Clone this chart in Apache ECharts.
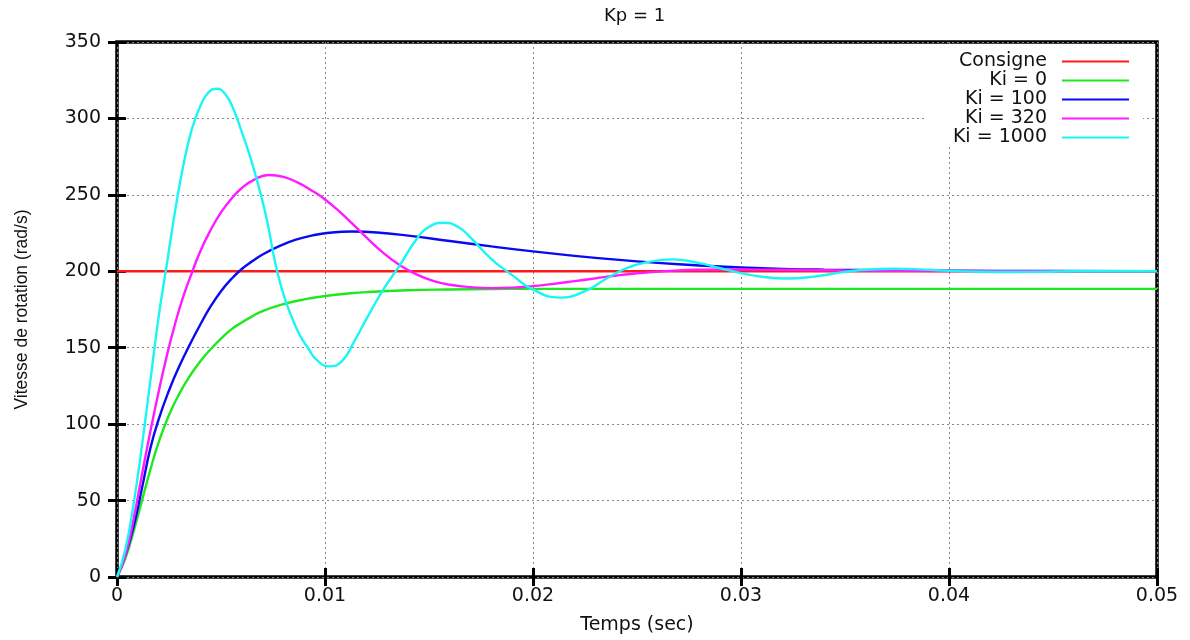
<!DOCTYPE html>
<html>
<head>
<meta charset="utf-8">
<title>Kp = 1</title>
<script src="https://cdn.jsdelivr.net/npm/echarts@6/dist/echarts.min.js"></script>
<style>
  html, body { margin: 0; padding: 0; background: #fff; }
  #chart { width: 1190px; height: 640px; }
</style>
</head>
<body>
<div id="chart"></div>
<script>
// Consigne : échelon à 200 rad/s
var consigneTimes = [0, 0.05];
var consigne = [200, 200];

// Ki = 0
var ki0Times = [
  0, 0.0004, 0.0008, 0.0012, 0.0016, 0.002, 0.0025, 0.003, 0.0035, 0.004,
  0.0045, 0.005, 0.0055, 0.006, 0.0065, 0.007, 0.008, 0.009, 0.01, 0.011,
  0.012, 0.014, 0.016, 0.018, 0.02, 0.05
];
var ki0 = [
  0, 12, 30, 50, 70, 88, 106, 120, 131.5, 141,
  149, 156, 162, 166.5, 170.5, 174, 178.5, 181.6, 183.8, 185.3,
  186.4, 187.6, 188.1, 188.4, 188.5, 188.5
];

// Ki = 100
var ki100Times = [
  0, 0.0004, 0.0008, 0.0012, 0.0016, 0.002, 0.0025, 0.003, 0.0035, 0.004,
  0.0045, 0.005, 0.0055, 0.006, 0.0065, 0.007, 0.0078, 0.0086, 0.0094, 0.0102,
  0.0113, 0.0125, 0.014, 0.016, 0.018, 0.02, 0.022, 0.024, 0.026, 0.028,
  0.03, 0.032, 0.034, 0.037, 0.04, 0.045, 0.05
];
var ki100 = [
  0, 14, 33, 58, 84, 103, 122, 138, 152, 165,
  177, 187, 195, 201.5, 206.5, 211, 216.5, 220.7, 223.5, 225.2,
  226, 225.4, 223.3, 219.8, 216.3, 213, 210.1, 207.6, 205.5, 203.8,
  202.5, 201.6, 201.1, 200.7, 200.4, 200.2, 200.1
];

// Ki = 320
var ki320Times = [
  0, 0.0004, 0.0008, 0.0012, 0.0016, 0.002, 0.0024, 0.0028, 0.0032, 0.0036,
  0.004, 0.0045, 0.005, 0.0055, 0.006, 0.0066, 0.0073, 0.008, 0.0087, 0.0094,
  0.01, 0.0107, 0.0114, 0.012, 0.0128, 0.0136, 0.0144, 0.0152, 0.016, 0.017,
  0.018, 0.019, 0.02, 0.021, 0.022, 0.023, 0.024, 0.025, 0.026, 0.027,
  0.028, 0.0295, 0.031, 0.033, 0.035, 0.038, 0.042, 0.05
];
var ki320 = [
  0, 14, 38, 67, 95, 121, 145, 166, 184, 199,
  213, 227, 238.5, 247.5, 254.5, 260, 263, 261.8, 258, 252.5,
  247, 239, 230, 222, 212, 204, 198, 193.7, 191.2, 189.6,
  189, 189.3, 190.3, 191.8, 193.6, 195.4, 197.2, 198.7, 199.8, 200.6,
  201, 201.2, 201.1, 200.8, 200.5, 200.3, 200.1, 200
];

// Ki = 1000
var ki1000Times = [
  0, 0.0004, 0.0008, 0.0012, 0.0016, 0.002, 0.0024, 0.0028, 0.0032, 0.0036,
  0.004, 0.0044, 0.0048, 0.0052, 0.0056, 0.006, 0.0064, 0.0068, 0.0072, 0.0076,
  0.008, 0.0084, 0.0088, 0.0092, 0.0096, 0.0102, 0.0108, 0.0114, 0.012, 0.0128,
  0.0136, 0.0144, 0.015, 0.0157, 0.0164, 0.017, 0.018, 0.019, 0.02, 0.0213,
  0.0225, 0.0235, 0.0245, 0.0255, 0.0267, 0.028, 0.029, 0.03, 0.031, 0.0322,
  0.0335, 0.035, 0.0362, 0.0374, 0.0388, 0.04, 0.0415, 0.043, 0.0445, 0.046,
  0.05
];
var ki1000 = [
  0, 18, 48, 86, 128, 170, 205, 240, 270, 293,
  308, 317, 319.4, 316, 306, 291, 275, 256, 234, 206,
  185, 170, 158, 149.5, 142, 137.8, 141, 154, 169, 188,
  204, 221, 229, 231.8, 229, 222, 208, 197.5, 188, 182.8,
  187, 195, 202, 206, 207.8, 205.3, 202, 198.8, 196.4, 195.3,
  196.5, 199.6, 201.2, 201.7, 201.1, 200.3, 199.7, 199.5, 199.7, 200,
  200
];

var seriesNames = ['Consigne', 'Ki = 0', 'Ki = 100', 'Ki = 320', 'Ki = 1000'];
var colors = ['#ff1a1a', '#1ee81e', '#0a0af0', '#ff1aff', '#1af5f5'];
var xTickLabels = ['0', '0.01', '0.02', '0.03', '0.04', '0.05'];

var font = 'DejaVu Sans';
var ink = '#111';

function pairs(xs, ys) {
  return xs.map(function (x, i) { return [x, ys[i]]; });
}

function curve(name, color, xs, ys) {
  return {
    name: name,
    type: 'line',
    data: pairs(xs, ys),
    symbol: 'none',
    smooth: true,
    lineStyle: { color: color, width: 2.4 },
    itemStyle: { color: color }
  };
}

var tickStyle = { inside: true, length: 9, lineStyle: { color: '#000', width: 3 } };
var gridLines = { show: true, lineStyle: { color: '#888', width: 1, type: [2, 3] } };

var myChart = echarts.init(document.getElementById('chart'), null, { renderer: 'canvas' });
myChart.setOption({
  animation: false,
  backgroundColor: '#fff',
  title: {
    text: 'Kp = 1',
    left: 604,
    top: 7,
    padding: 0,
    textStyle: { fontFamily: font, fontSize: 18, fontWeight: 'normal', color: ink }
  },
  legend: {
    data: seriesNames,
    orient: 'vertical',
    align: 'right',
    right: 47,
    top: 46,
    icon: 'rect',
    itemWidth: 67,
    itemHeight: 2,
    itemGap: 0,
    padding: [6, 14, 0, 26],
    backgroundColor: '#fff',
    textStyle: { fontFamily: font, fontSize: 19, color: ink, lineHeight: 17, padding: [0, 10, 0, 0] }
  },
  grid: {
    left: 117,
    right: 33,
    top: 42,
    bottom: 61,
    show: true,
    borderColor: '#000',
    borderWidth: 3.5
  },
  xAxis: [
    {
      type: 'value',
      min: 0,
      max: 0.05,
      interval: 0.01,
      name: 'Temps (sec)',
      nameLocation: 'middle',
      nameGap: 39,
      nameTextStyle: { fontFamily: font, fontSize: 19, color: ink },
      axisLine: { show: false },
      axisTick: tickStyle,
      axisLabel: {
        fontFamily: font, fontSize: 19, color: ink, margin: 10,
        formatter: function (v) { return xTickLabels[Math.round(v / 0.01)]; }
      },
      splitLine: gridLines
    },
    {
      type: 'value',
      position: 'top',
      min: 0,
      max: 0.05,
      interval: 0.01,
      axisLine: { show: false },
      axisTick: tickStyle,
      axisLabel: { show: false },
      splitLine: { show: false }
    }
  ],
  yAxis: [
    {
      type: 'value',
      min: 0,
      max: 350,
      interval: 50,
      name: 'Vitesse de rotation (rad/s)',
      nameLocation: 'middle',
      nameGap: 86,
      nameTextStyle: { fontFamily: 'Liberation Sans', fontSize: 17.5, color: ink },
      axisLine: { show: false },
      axisTick: tickStyle,
      axisLabel: { fontFamily: font, fontSize: 19, color: ink, margin: 16 },
      splitLine: gridLines
    },
    {
      type: 'value',
      position: 'right',
      min: 0,
      max: 350,
      interval: 50,
      axisLine: { show: false },
      axisTick: tickStyle,
      axisLabel: { show: false },
      splitLine: { show: false }
    }
  ],
  series: [
    curve(seriesNames[0], colors[0], consigneTimes, consigne),
    curve(seriesNames[1], colors[1], ki0Times, ki0),
    curve(seriesNames[2], colors[2], ki100Times, ki100),
    curve(seriesNames[3], colors[3], ki320Times, ki320),
    curve(seriesNames[4], colors[4], ki1000Times, ki1000)
  ]
});
</script>
</body>
</html>
